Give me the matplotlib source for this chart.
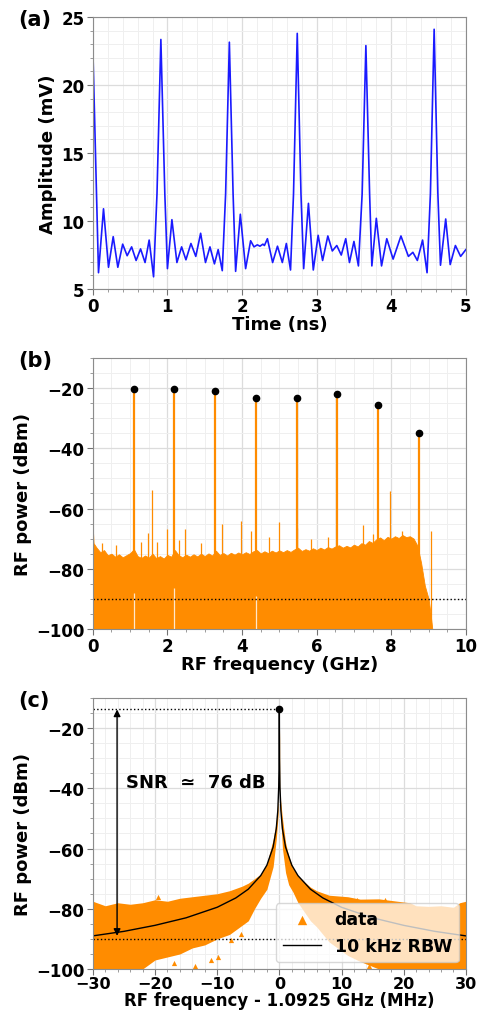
import matplotlib
matplotlib.use('Agg')
import matplotlib.pyplot as plt
from matplotlib.ticker import MultipleLocator

plt.rcParams['font.family'] = ['DejaVu Sans']
plt.rcParams['font.weight'] = 'bold'
plt.rcParams['axes.labelweight'] = 'bold'

# ---- (a) time trace, extrema
t_ns = [0.0, 0.076, 0.143, 0.21, 0.273, 0.335, 0.40, 0.46, 0.52, 0.58, 0.64, 0.70, 0.755, 0.814,
        0.86, 0.912, 0.965, 1.00, 1.06, 1.127, 1.19, 1.248, 1.315, 1.38, 1.445, 1.51, 1.57, 1.63, 1.68, 1.735,
        1.78, 1.83, 1.88, 1.914, 1.977, 2.048, 2.115, 2.16, 2.205, 2.24, 2.28, 2.30, 2.34, 2.41, 2.475, 2.54,
        2.594, 2.65, 2.69, 2.74, 2.79, 2.826, 2.89, 2.955, 3.02, 3.08, 3.15, 3.21, 3.27, 3.33, 3.39, 3.44,
        3.50, 3.56, 3.61, 3.66, 3.71, 3.74, 3.80, 3.87, 3.94, 4.025, 4.13, 4.23, 4.29, 4.35, 4.42, 4.48,
        4.525, 4.575, 4.625, 4.66, 4.73, 4.79, 4.86, 4.93, 5.0]
amp_mv = [22.7, 6.2, 10.9, 6.6, 8.85, 6.6, 8.3, 7.45, 8.1, 7.1, 7.95, 6.95, 8.6, 5.9,
          12.0, 23.35, 12.0, 6.5, 10.1, 6.95, 8.1, 7.15, 8.35, 7.4, 9.1, 6.95, 8.1, 6.85, 7.9, 6.35,
          12.0, 23.15, 12.0, 6.3, 10.5, 6.5, 8.55, 8.1, 8.25, 8.15, 8.3, 8.2, 8.7, 6.95, 8.15, 6.95,
          8.35, 6.4, 12.0, 23.8, 12.0, 6.5, 11.3, 6.4, 8.95, 7.1, 8.9, 7.8, 8.2, 7.5, 8.7, 6.95,
          8.5, 6.7, 12.0, 22.9, 12.0, 6.7, 10.2, 6.7, 8.7, 7.2, 8.9, 7.4, 7.7, 7.1, 8.6, 6.2,
          12.0, 24.1, 12.0, 6.75, 10.15, 6.8, 8.2, 7.4, 7.9]

# ---- (b) RF spectrum
comb_ghz = [1.0925, 2.185, 3.2775, 4.37, 5.4625, 6.555, 7.6475, 8.74]
comb_dbm = [-20.3, -20.3, -20.9, -23.3, -23.3, -21.9, -25.5, -35.0]
floor_ghz = [0.0, 0.02, 0.1, 0.2, 0.3, 0.4, 0.5, 0.6, 0.7, 0.8, 0.9, 1.0, 1.1, 1.2, 1.3, 1.4, 1.5, 1.6,
             1.7, 1.8, 1.9, 2.0, 2.1, 2.2, 2.3, 2.4, 2.5, 2.6, 2.7, 2.8, 2.9, 3.0, 3.1, 3.2, 3.3, 3.4,
             3.5, 3.6, 3.7, 3.8, 3.9, 4.0, 4.1, 4.2, 4.3, 4.4, 4.5, 4.6, 4.7, 4.8, 4.9, 5.0, 5.1, 5.2,
             5.3, 5.4, 5.5, 5.6, 5.7, 5.8, 5.9, 6.0, 6.1, 6.2, 6.3, 6.4, 6.5, 6.6, 6.7, 6.8, 6.9, 7.0,
             7.1, 7.2, 7.3, 7.4, 7.5, 7.6, 7.7, 7.8, 7.9, 8.0, 8.1, 8.2, 8.3, 8.4, 8.5, 8.6, 8.7, 8.8,
             8.9, 9.0, 9.05, 9.1]
floor_dbm = [-66.5, -71.5, -73.0, -74.5, -73.8, -75.5, -75.0, -76.0, -75.2, -76.2, -75.5, -74.8, -73.5, -75.8,
             -76.4, -75.6, -76.3, -75.0, -76.5, -75.8, -76.6, -75.4, -76.0, -73.8, -75.5, -76.2, -75.3, -76.0,
             -75.2, -75.9, -75.0, -75.8, -74.9, -75.6, -74.0, -75.4, -74.8, -75.6, -74.7, -75.3, -74.6, -75.2,
             -74.5, -75.1, -74.2, -73.8, -74.9, -74.2, -74.8, -74.0, -74.6, -73.9, -74.5, -73.8, -74.4, -73.6,
             -73.0, -74.1, -73.5, -74.0, -73.2, -73.8, -73.0, -73.6, -72.8, -73.3, -72.6, -72.2, -73.0, -72.4,
             -72.9, -72.0, -72.6, -71.5, -72.0, -70.8, -71.4, -70.2, -69.6, -70.5, -69.4, -70.0, -69.2, -69.8,
             -68.8, -69.5, -69.2, -70.0, -72.3, -78.0, -85.6, -90.0, -94.5, -100.0]
spur_ghz = [0.25, 0.62, 1.30, 1.48, 1.58, 1.72, 1.99, 2.31, 2.48, 2.90, 3.47, 3.98, 4.23, 4.73, 4.98,
            5.48, 5.85, 6.30, 7.23, 7.50, 7.96, 8.30, 9.06]
spur_dbm = [-71.5, -72.0, -71.0, -68.0, -54.0, -71.0, -66.7, -70.5, -66.7, -71.5, -65.3, -64.0, -67.3, -69.5,
            -64.5, -66.5, -70.0, -69.5, -65.6, -68.4, -54.3, -67.5, -67.3]
notch_ghz = [1.0925, 2.185, 4.37]
notch_top_dbm = [-88.0, -86.5, -89.0]

# ---- (c) zoom on first comb line
c_x = [-30, -28, -26, -24, -22, -20, -18, -16, -14, -12, -10, -8, -6, -5, -4, -3, -2, -1, -0.5, -0.2, 0,
       0.2, 0.5, 1, 1.5, 2.2, 3, 4, 5, 6, 8, 11, 13, 16, 19, 21, 22, 24, 26, 28, 29, 30]
c_top = [-77.5, -79.0, -78.0, -78.5, -78.0, -77.0, -77.5, -76.5, -76.0, -75.5, -75.0, -74.0, -72.5, -71.5, -70.0,
         -68.5, -65.0, -57.0, -51.0, -44.0, -17.0,
         -44.0, -50.0, -58.0, -62.5, -66.5, -69.0, -71.0, -72.8, -74.0, -75.5, -76.0, -76.8, -76.7, -77.5,
         -78.0, -79.0, -79.2, -79.0, -79.5, -78.0, -77.5]
c_bot = [-100, -100, -100, -100, -100, -97, -96, -95, -93, -92, -90, -88.5, -85.5, -84, -80, -76.5, -73.5, -66,
         -57, -49, -20,
         -49, -60, -68, -72, -74.5, -78, -81, -84, -86, -91, -95.5, -97.5, -100, -100, -100, -100, -100, -100,
         -100, -100, -100]
c_out_x = [-19.5, -7.8, -9.9, -6.2, -17.0, -22.5, -13.5, -11.0, 8.5, 12.5, 17.0, 21.5, 25.0, 14.5]
c_out_y = [-76.0, -90.5, -96.0, -88.5, -98.0, -97.5, -99.0, -97.0, -76.5, -77.0, -77.2, -98.5, -97.5, -99.0]
rbw_x = [-30, -25, -20, -15, -10, -7, -5, -3, -2, -1, -0.5, -0.25, -0.1, -0.03, 0,
         0.03, 0.1, 0.25, 0.5, 1, 2, 3, 5, 7, 10, 15, 20, 25, 30]
rbw_dbm = [-89.0, -87.5, -85.5, -83.0, -79.5, -76.4, -73.5, -69.0, -65.5, -59.5, -53.5, -47.5, -39.5, -30.0, -14.0,
           -30.0, -39.5, -47.5, -53.5, -59.5, -65.5, -69.0, -73.5, -76.4, -79.5, -83.0, -85.5, -87.5, -89.0]
peak_c = -13.8
noise_ref = -90.0

orange = '#ff8c00'
fig = plt.figure(figsize=(4.81, 10.12), dpi=100)
ax_a = fig.add_axes([0.193, 0.7134, 0.7755, 0.2688])
ax_b = fig.add_axes([0.193, 0.3775, 0.7755, 0.2678])
ax_c = fig.add_axes([0.193, 0.0415, 0.7755, 0.2678])


def style(ax, xmaj, xmin, ymaj, ymin):
    ax.xaxis.set_major_locator(MultipleLocator(xmaj))
    ax.xaxis.set_minor_locator(MultipleLocator(xmin))
    ax.yaxis.set_major_locator(MultipleLocator(ymaj))
    ax.yaxis.set_minor_locator(MultipleLocator(ymin))
    ax.grid(which='major', color='#dcdcdc', lw=0.9)
    ax.grid(which='minor', color='#efefef', lw=0.7)
    ax.set_axisbelow(True)
    ax.tick_params(which='major', direction='out', length=4, color='0.45', labelsize=12, pad=2)
    ax.tick_params(which='minor', direction='out', length=2, color='0.55')
    for s in ax.spines.values():
        s.set_color('0.55')
    for lab in ax.get_xticklabels() + ax.get_yticklabels():
        lab.set_fontweight('bold')


# (a)
ax_a.plot(t_ns, amp_mv, color='#1a1aff', lw=1.2)
ax_a.set_xlim(0, 5)
ax_a.set_ylim(5, 25)
style(ax_a, 1, 0.2, 5, 1)
ax_a.set_xlabel('Time (ns)', fontsize=13, labelpad=0)
ax_a.set_ylabel('Amplitude (mV)', fontsize=13, labelpad=3)
fig.text(0.037, 0.98, '(a)', fontsize=15, fontweight='bold', va='center')

# (b)
ax_b.fill_between(floor_ghz, -100, floor_dbm, color=orange, lw=0.6, edgecolor=orange)
ax_b.vlines(spur_ghz, -100, spur_dbm, color=orange, lw=0.9)
ax_b.vlines(comb_ghz, -100, comb_dbm, color=orange, lw=1.6)
ax_b.vlines(notch_ghz, -100, notch_top_dbm, color='white', lw=0.9, alpha=0.8)
ax_b.plot(comb_ghz, comb_dbm, 'o', color='black', ms=4.5)
ax_b.axhline(noise_ref, color='black', ls=':', lw=1)
ax_b.set_xlim(0, 10)
ax_b.set_ylim(-100, -10)
style(ax_b, 2, 0.5, 20, 5)
ax_b.set_xlabel('RF frequency (GHz)', fontsize=13, labelpad=0)
ax_b.set_ylabel('RF power (dBm)', fontsize=13, labelpad=3)
fig.text(0.037, 0.643, '(b)', fontsize=15, fontweight='bold', va='center')

# (c)
ax_c.fill_between(c_x, c_bot, c_top, color=orange, lw=0)
ax_c.scatter(c_out_x, c_out_y, marker='^', s=14, color=orange, lw=0, label='data')
ax_c.plot(rbw_x, rbw_dbm, color='black', lw=1.0, label='10 kHz RBW')
ax_c.plot([0], [peak_c], 'o', color='black', ms=4.5)
ax_c.plot([-30, 0], [peak_c, peak_c], color='black', ls=':', lw=1)
ax_c.axhline(noise_ref, color='black', ls=':', lw=1)
ax_c.annotate('', xy=(-26.1, peak_c), xytext=(-26.1, -89.0),
              arrowprops=dict(arrowstyle='<|-|>', color='black', lw=1.0, mutation_scale=10,
                              shrinkA=0, shrinkB=0))
ax_c.text(-24.7, -37.8, 'SNR  \u2243  76 dB', fontsize=13, fontweight='bold', va='center')
ax_c.set_xlim(-30, 30)
ax_c.set_ylim(-100, -10)
style(ax_c, 10, 2, 20, 5)
ax_c.tick_params(axis='x', which='major', pad=1, labelsize=11.5)
ax_c.set_xlabel('RF frequency - 1.0925 GHz (MHz)', fontsize=12, labelpad=0)
ax_c.set_ylabel('RF power (dBm)', fontsize=13, labelpad=3)
leg = ax_c.legend(loc='lower right', prop={'weight': 'bold', 'size': 12.5},
                  framealpha=0.75, edgecolor='#cccccc', handlelength=2.2, markerscale=1.8,
                  borderaxespad=0.4)
fig.text(0.037, 0.307, '(c)', fontsize=15, fontweight='bold', va='center')

fig.savefig('out.png', dpi=100)
